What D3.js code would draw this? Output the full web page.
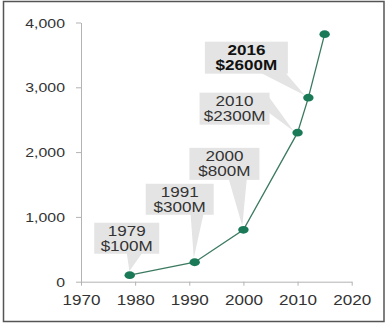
<!DOCTYPE html>
<html>
<head>
<meta charset="utf-8">
<script src="https://cdn.jsdelivr.net/npm/d3@7"></script>
<style>
  html, body { margin: 0; padding: 0; background: #fff; }
  svg { display: block; }
  text { font-family: "Liberation Sans", Arial, sans-serif; }
</style>
</head>
<body>
<svg id="chart" width="391" height="326"></svg>
<script>
// Revenue milestones ($M) by year
const years   = [1979, 1991, 2000, 2010, 2012, 2015];
const revenue = [100, 300, 800, 2300, 2840, 3820];

// Callout texts, one per annotated point (index into the series above)
const calloutIndex   = [0, 1, 2, 3, 4];
const calloutYears   = ["1979", "1991", "2000", "2010", "2016"];
const calloutAmounts = ["$100M", "$300M", "$800M", "$2300M", "$2600M"];

// Axis ticks
const xTicks = [1970, 1980, 1990, 2000, 2010, 2020];
const yTicks = [0, 1000, 2000, 3000, 4000];

// Callout box layout: offset of the box centre from its point, box size,
// and where the pointer wedge leaves the box (side + fractions along it)
const calloutLayout = [
  { dx: -3,  dy: -37, w: 65, h: 31, side: "bottom", f0: 0.50, f1: 0.74, bold: false },
  { dx: -15, dy: -63, w: 68, h: 31, side: "bottom", f0: 0.66, f1: 0.85, bold: false },
  { dx: -19, dy: -66, w: 70, h: 32, side: "bottom", f0: 0.56, f1: 0.82, bold: false },
  { dx: -63, dy: -24, w: 70, h: 32, side: "right",  f0: 0.12, f1: 0.62, bold: false },
  { dx: -62, dy: -40, w: 83, h: 32, side: "bottom", f0: 0.67, f1: 0.97, bold: true }
];

const svg = d3.select("#chart");
const textStretch = 1.22;

// outer frame
svg.append("rect")
  .attr("x", 3.5).attr("y", 1.5)
  .attr("width", 380.5).attr("height", 320)
  .attr("fill", "#fff")
  .attr("stroke", "#555").attr("stroke-width", 1.5);

const x = d3.scaleLinear().domain([1970, 2020]).range([81, 351.7]);
const y = d3.scaleLinear().domain([0, 4000]).range([281.7, 22.5]);

const axisColor = "#b3b3b3";
const labelColor = "#333";

// y axis
const yAxis = svg.append("g")
  .attr("transform", `translate(${x.range()[0]},0)`)
  .call(d3.axisLeft(y).tickValues(yTicks).tickSize(5).tickSizeOuter(0).tickFormat(() => ""));
yAxis.select(".domain").attr("stroke", axisColor);
yAxis.selectAll(".tick line").attr("stroke", axisColor);
yAxis.selectAll(".tick").append("text")
  .attr("transform", `translate(-16,4.5) scale(${textStretch},1)`)
  .attr("text-anchor", "end")
  .attr("fill", labelColor)
  .style("font-size", "13px")
  .text(d => d3.format(",")(d));

// x axis
const xAxis = svg.append("g")
  .attr("transform", `translate(0,${y(0)})`)
  .call(d3.axisBottom(x).tickValues(xTicks).tickSize(4).tickSizeOuter(0).tickFormat(() => ""));
xAxis.select(".domain").attr("stroke", axisColor);
xAxis.selectAll(".tick line").attr("stroke", axisColor);
xAxis.selectAll(".tick").append("text")
  .attr("transform", `translate(0,23) scale(${textStretch},1)`)
  .attr("text-anchor", "middle")
  .attr("fill", labelColor)
  .style("font-size", "14px")
  .text(d => d);

const points = years.map((yr, i) => ({ year: yr, value: revenue[i] }));

// callouts (drawn under the line)
const callouts = svg.append("g");
calloutIndex.forEach((pi, k) => {
  const L = calloutLayout[k];
  const px = x(points[pi].year), py = y(points[pi].value);
  const cx = px + L.dx, cy = py + L.dy;
  const bx = cx - L.w / 2, by = cy - L.h / 2;
  const g = callouts.append("g");
  // pointer wedge
  let a, b;
  if (L.side === "bottom") {
    a = [bx + L.w * L.f0, by + L.h - 1];
    b = [bx + L.w * L.f1, by + L.h - 1];
  } else {
    a = [bx + L.w - 1, by + L.h * L.f0];
    b = [bx + L.w - 1, by + L.h * L.f1];
  }
  const dirx = cx - px, diry = cy - py;
  const len = Math.hypot(dirx, diry);
  const tip = [px + dirx / len * 4, py + diry / len * 4];
  g.append("path")
    .attr("d", d3.line()([a, b, tip]) + "Z")
    .attr("fill", "#e4e4e4");
  g.append("rect")
    .attr("x", bx).attr("y", by)
    .attr("width", L.w).attr("height", L.h)
    .attr("fill", "#e4e4e4");
  [calloutYears[k], calloutAmounts[k]].forEach((t, li) => {
    g.append("text")
      .attr("transform", `translate(${cx},${cy - 2.5 + li * 15}) scale(${textStretch},1)`)
      .attr("text-anchor", "middle")
      .attr("fill", L.bold ? "#111" : labelColor)
      .style("font-size", "14px")
      .style("font-weight", L.bold ? "bold" : "normal")
      .text(t);
  });
});

// revenue line
svg.append("path")
  .datum(points)
  .attr("fill", "none")
  .attr("stroke", "#3b7a60")
  .attr("stroke-width", 1.3)
  .attr("d", d3.line().x(d => x(d.year)).y(d => y(d.value)));

// markers
svg.append("g").selectAll("ellipse")
  .data(points)
  .join("ellipse")
  .attr("cx", d => x(d.year))
  .attr("cy", d => y(d.value))
  .attr("rx", 5.2).attr("ry", 3.9)
  .attr("fill", "#1a7a57");
</script>
</body>
</html>
